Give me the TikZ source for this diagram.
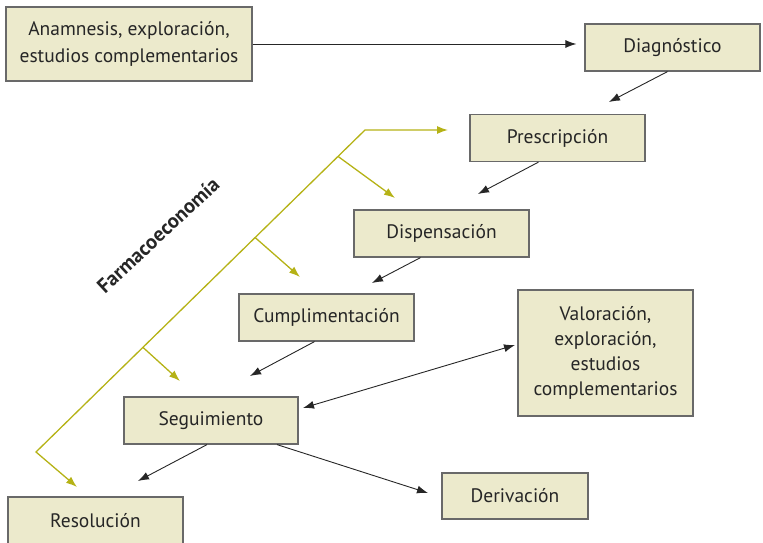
\documentclass[tikz,border=0pt]{standalone}
\usepackage{fontspec}
\setmainfont{PT Sans}
\usetikzlibrary{calc,positioning,arrows.meta}
\definecolor{boxfill}{RGB}{236,234,204}
\definecolor{boxline}{RGB}{105,105,105}
\definecolor{farmagreen}{RGB}{181,178,22}

\begin{document}
\begin{tikzpicture}[
                x=1pt,y=-1pt,
                every node/.append style={font=\fontsize{19.5}{25}\selectfont,text=black!85},
                paso/.style={rectangle,draw=boxline,fill=boxfill,line width=1.2pt,
                    minimum width=175pt,minimum height=47pt,align=center,inner sep=0pt},
                flecha/.style={-{Latex[length=11pt,width=8pt]},line width=0.9pt,black!85},
                verde/.style={draw=farmagreen,line width=1.3pt}
            ]
                \useasboundingbox (0,0) rectangle (763,543);
                \node (ana)   [paso,minimum width=246pt,minimum height=74pt,
                    font=\fontsize{19.5}{26.5}\selectfont] at (129,44)
                    {Anamnesis, exploración,\\estudios complementarios};
                \node (diag)  [paso] at (672.5,47.5) {Diagnóstico};
                \node (pres)  [paso] at (557.5,138) {Prescripción};
                \node (disp)  [paso] at (441.5,233.5) {Dispensación};
                \node (cump)  [paso] at (326.5,317.5) {Cumplimentación};
                \node (seg)   [paso,minimum width=174pt] at (211,420.5) {Seguimiento};
                \node (res)   [paso] at (95.5,520.5) {Resolución};
                \node (val)   [paso,minimum height=126pt] at (605.5,353)
                    {Valoración,\\exploración,\\estudios\\complementarios};
                \node (deriv) [paso,minimum width=146pt,minimum height=46pt] at (515,496) {Derivación};
                \node (farma) [rotate=43,font=\fontsize{20.5}{22}\selectfont\bfseries] at (158,235) {Farmacoeconomía};

                % flujo principal
                \coordinate (diagfin) at (609,102);
                \coordinate (presfin) at (478,194);
                \coordinate (dispfin) at (372,283);
                \coordinate (cumpfin) at (250,376);
                \coordinate (segfin)  at (138,481);
                \coordinate (derivfin) at (428,493);
                \coordinate (valfin)  at (515,345);
                \coordinate (segini)  at (303,408);
                \draw[flecha,shorten >=8pt] (ana.east) -- (ana.east -| diag.west);
                \draw[flecha] (diag.south) ++(-5,0) -- (diagfin);
                \draw[flecha] (pres.south) ++(-19,0) -- (presfin);
                \draw[flecha] (disp.south) ++(-21,0) -- (dispfin);
                \draw[flecha] (cump.south) ++(-12,0) -- (cumpfin);
                \draw[flecha] (seg.south) ++(-4,0) -- (segfin);
                \draw[flecha] (seg.south) ++(66,0) -- (derivfin);
                \draw[flecha,{Latex[length=11pt,width=8pt]}-{Latex[length=11pt,width=8pt]}] (segini) -- (valfin);

                % farmacoeconomia
                \coordinate (gb) at (36,452);
                \coordinate (gt) at (365,130);
                \coordinate (gtfin) at (448,130);
                \coordinate (gbfin) at (77,487);
                \draw[verde,{Latex[length=11pt,width=8pt]}-{Latex[length=11pt,width=8pt]}]
                    (gbfin) -- (gb) -- (gt) -- (gtfin);
                \foreach \t/\fin in {0.918/{(395,198)},0.666/{(300,277)},0.325/{(180,381)}}
                    \draw[verde,-{Latex[length=11pt,width=8pt]}] ($(gb)!\t!(gt)$) -- \fin;
            \end{tikzpicture}
\end{document}
